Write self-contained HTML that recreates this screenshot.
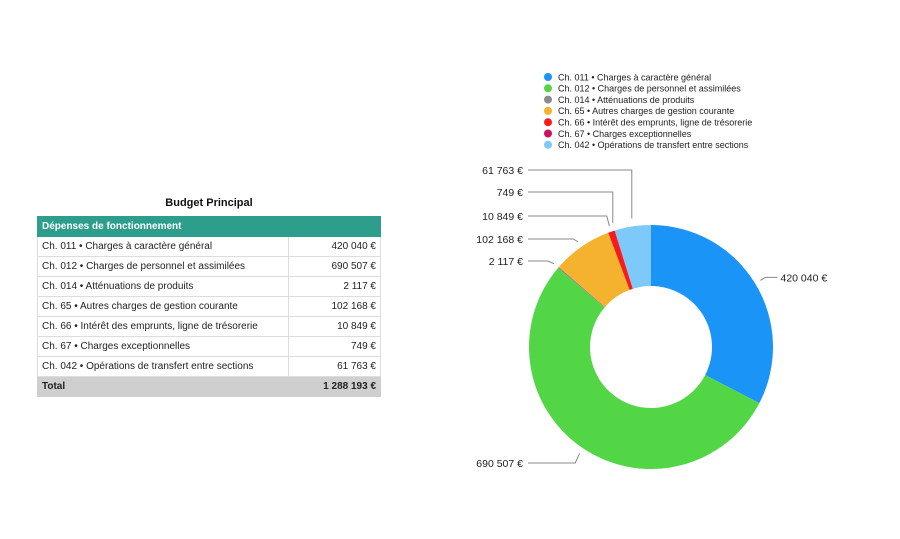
<!DOCTYPE html>
<html><head><meta charset="utf-8"><style>
body{margin:0;width:900px;height:539px;background:#fff;font-family:"Liberation Sans",sans-serif;position:relative;overflow:hidden}
#title{position:absolute;left:37px;top:197px;width:344px;text-align:center;font-weight:bold;font-size:11px;color:#111}
table{position:absolute;left:37px;top:216px;width:344px;border-collapse:collapse;font-size:10px;color:#222}
td{height:19px;padding:0 4px;border:1px solid #ddd}
td.v{text-align:right;border-left:1px solid #999;width:83px}
tr.h td{background:#2e9e8c;color:#fff;font-weight:bold;border-color:#2e9e8c}
tr.t td{background:#cfcfcf;font-weight:bold;border-color:#cfcfcf}
tr.t td.v{border-left:1px solid #999}
svg{position:absolute;left:0;top:0}
</style></head><body>
<div id="title">Budget Principal</div>
<table>
<tr class="h"><td colspan="2">Dépenses de fonctionnement</td></tr>
<tr><td>Ch. 011 • Charges à caractère général</td><td class="v">420 040 €</td></tr>
<tr><td>Ch. 012 • Charges de personnel et assimilées</td><td class="v">690 507 €</td></tr>
<tr><td>Ch. 014 • Atténuations de produits</td><td class="v">2 117 €</td></tr>
<tr><td>Ch. 65 • Autres charges de gestion courante</td><td class="v">102 168 €</td></tr>
<tr><td>Ch. 66 • Intérêt des emprunts, ligne de trésorerie</td><td class="v">10 849 €</td></tr>
<tr><td>Ch. 67 • Charges exceptionnelles</td><td class="v">749 €</td></tr>
<tr><td>Ch. 042 • Opérations de transfert entre sections</td><td class="v">61 763 €</td></tr>
<tr class="t"><td>Total</td><td class="v">1 288 193 €</td></tr>
</table>
<svg id="chart" width="900" height="539"></svg>
<script>
const categories=["Ch. 011 • Charges à caractère général","Ch. 012 • Charges de personnel et assimilées","Ch. 014 • Atténuations de produits","Ch. 65 • Autres charges de gestion courante","Ch. 66 • Intérêt des emprunts, ligne de trésorerie","Ch. 67 • Charges exceptionnelles","Ch. 042 • Opérations de transfert entre sections"];
const values=[420040,690507,2117,102168,10849,749,61763];
const valueLabels=["420 040 €","690 507 €","2 117 €","102 168 €","10 849 €","749 €","61 763 €"];
const colors=["#1a94f7","#52d645","#8a8a8a","#f4b22e","#fa1a1a","#d1105f","#7dcafa"];
const NS="http://www.w3.org/2000/svg",svg=document.getElementById('chart');
function mk(t,a){const e=document.createElementNS(NS,t);for(const k in a)e.setAttribute(k,a[k]);svg.appendChild(e);return e;}
const cx=651,cy=347,R=122,r=61;
const total=values.reduce((a,b)=>a+b,0);
function pt(a,rad){return[cx+rad*Math.sin(a),cy-rad*Math.cos(a)];}
// legend
categories.forEach((c,i)=>{
  const y=77+i*11.3;
  const d=mk('circle',{cx:548,cy:y,r:4,fill:colors[i]});
  
  
  const t=mk('text',{x:558,y:y+3.3,'font-size':9,fill:'#222'});
  t.textContent=c;
  
  
});
// slices
let acc=0;const mids=[];
values.forEach((v,i)=>{
  const a0=acc/total*2*Math.PI;acc+=v;const a1=acc/total*2*Math.PI;
  const large=(a1-a0)>Math.PI?1:0;
  const [x0,y0]=pt(a0,R),[x1,y1]=pt(a1,R),[x2,y2]=pt(a1,r),[x3,y3]=pt(a0,r);
  const p=mk('path',{d:`M${x0},${y0}A${R},${R} 0 ${large} 1 ${x1},${y1}L${x2},${y2}A${r},${r} 0 ${large} 0 ${x3},${y3}Z`,fill:colors[i]});
  
  
  mids.push((a0+a1)/2);
});
// labels: right side for first slice, left for others
const leftY={1:463,2:261,3:239,4:216,5:192,6:170};
values.forEach((v,i)=>{
  const m=mids[i];const [ex,ey]=pt(m,R+6);
  let d,tx,ty,anchor;
  if(i===0){const [bx,by]=pt(m,R+12);d=`M${ex},${ey}L${bx},${by}L${bx+12},${by}`;tx=bx+15;ty=by+4;anchor='start';}
  else if(i>=5){const ly=leftY[i];d=`M${ex},${ey-2}L${ex},${ly}L528,${ly}`;tx=523;ty=ly+4;anchor='end';}
  else{const ly=leftY[i];const [bx,by]=pt(m,R+14);d=`M${ex},${ey}L${bx},${ly}L528,${ly}`;tx=523;ty=ly+4;anchor='end';}
  const l=mk('path',{d,fill:'none',stroke:'#888','stroke-width':1});
  
  
  const t=mk('text',{x:tx,y:ty,'font-size':10.5,fill:'#222','text-anchor':anchor});
  t.textContent=valueLabels[i];
  
  
});
</script>
</body></html>
